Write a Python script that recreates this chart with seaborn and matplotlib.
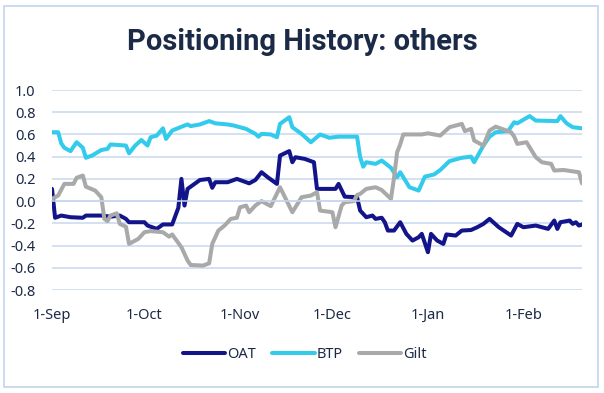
import matplotlib
matplotlib.use("Agg")
import matplotlib.pyplot as plt
import matplotlib.dates as mdates
from matplotlib.patches import Rectangle
import pandas as pd
import seaborn as sns

# days since 1-Sep and positioning values
oat_day = [0, 1, 3, 6, 10, 11, 16, 19, 22, 24, 25, 30, 31, 34, 36, 39, 41, 42, 43, 44,
           47, 48, 51, 52, 53, 57, 60, 61, 64, 66, 68, 70, 73, 74, 77, 78, 79, 82, 85, 86,
           88, 92, 93, 95, 99, 100, 102, 104, 105, 107, 108, 109, 111, 113, 115, 117, 119, 120, 122, 123,
           125, 127, 128, 131, 133, 136, 138, 140, 142, 145, 149, 151, 153, 157, 161, 163, 164, 165, 168, 169,
           170, 171, 172]
oat_val = [0.11, -0.15, -0.13, -0.145, -0.15, -0.13, -0.13, -0.14, -0.13, -0.16, -0.19, -0.19, -0.22, -0.25, -0.21, -0.21, -0.06, 0.20, -0.04, 0.11,
           0.17, 0.19, 0.20, 0.12, 0.17, 0.17, 0.20, 0.19, 0.16, 0.19, 0.26, 0.215, 0.155, 0.41, 0.45, 0.35, 0.395, 0.38, 0.35, 0.11,
           0.11, 0.11, 0.155, 0.04, 0.035, -0.085, -0.145, -0.13, -0.16, -0.15, -0.19, -0.265, -0.265, -0.19, -0.295, -0.355, -0.325, -0.295, -0.46, -0.295,
           -0.355, -0.385, -0.30, -0.31, -0.265, -0.26, -0.235, -0.205, -0.16, -0.235, -0.31, -0.205, -0.235, -0.22, -0.25, -0.175, -0.25, -0.19, -0.175, -0.205,
           -0.19, -0.22, -0.21]

btp_day = [0, 2, 3, 4, 6, 8, 10, 11, 13, 16, 18, 19, 24, 25, 27, 29, 31, 32, 34, 36,
           37, 39, 43, 44, 45, 48, 51, 53, 57, 59, 63, 66, 67, 68, 71, 73, 74, 77, 78, 81,
           84, 87, 90, 93, 99, 100, 101, 102, 105, 107, 110, 112, 113, 116, 119, 121, 124, 126, 129, 133,
           136, 137, 140, 142, 144, 148, 150, 151, 155, 157, 164, 165, 167, 169, 172]
btp_val = [0.62, 0.62, 0.52, 0.48, 0.45, 0.53, 0.48, 0.39, 0.41, 0.46, 0.47, 0.51, 0.50, 0.43, 0.50, 0.55, 0.50, 0.575, 0.59, 0.655,
           0.56, 0.635, 0.68, 0.69, 0.675, 0.69, 0.72, 0.70, 0.69, 0.68, 0.65, 0.605, 0.58, 0.605, 0.60, 0.575, 0.695, 0.755, 0.665, 0.605,
           0.53, 0.60, 0.57, 0.58, 0.58, 0.395, 0.31, 0.35, 0.335, 0.365, 0.30, 0.215, 0.26, 0.125, 0.095, 0.22, 0.24, 0.28, 0.36, 0.39,
           0.40, 0.35, 0.50, 0.58, 0.62, 0.63, 0.71, 0.70, 0.765, 0.725, 0.72, 0.765, 0.70, 0.665, 0.655]

gilt_day = [0, 2, 4, 7, 8, 10, 11, 14, 16, 17, 18, 19, 21, 22, 24, 25, 26, 28, 30, 32,
            36, 38, 39, 42, 44, 45, 49, 51, 52, 54, 56, 58, 60, 61, 63, 64, 66, 68, 71, 74,
            78, 81, 84, 86, 87, 91, 92, 94, 95, 98, 99, 100, 102, 105, 107, 110, 111, 112, 113, 114,
            120, 122, 126, 129, 133, 134, 136, 137, 140, 142, 144, 149, 150, 151, 154, 157, 159, 162, 163, 166,
            171, 172]
gilt_val = [0.02, 0.05, 0.155, 0.155, 0.21, 0.23, 0.13, 0.095, 0.035, -0.16, -0.18, -0.13, -0.11, -0.205, -0.23, -0.385, -0.37, -0.34, -0.28, -0.27,
            -0.28, -0.32, -0.30, -0.415, -0.535, -0.575, -0.58, -0.56, -0.385, -0.265, -0.22, -0.16, -0.15, -0.056, -0.04, -0.10, -0.04, 0.0, -0.045, 0.125,
            -0.10, 0.035, 0.05, 0.08, -0.085, -0.10, -0.235, -0.04, -0.01, 0.0, 0.055, 0.065, 0.11, 0.125, 0.10, 0.02, 0.21, 0.44, 0.51, 0.60,
            0.60, 0.61, 0.59, 0.665, 0.695, 0.63, 0.65, 0.545, 0.50, 0.635, 0.67, 0.62, 0.58, 0.515, 0.53, 0.395, 0.35, 0.335, 0.275, 0.28,
            0.26, 0.16]

series_names = ["OAT", "BTP", "Gilt"]
series_colors = ["#13148a", "#33cbec", "#a9a9a9"]

start = pd.Timestamp("2023-09-01")
frames = []
for name, days, vals in [("OAT", oat_day, oat_val), ("BTP", btp_day, btp_val), ("Gilt", gilt_day, gilt_val)]:
    frames.append(pd.DataFrame({"date": start + pd.to_timedelta(days, unit="D"),
                                "value": vals, "series": name}))
df = pd.concat(frames, ignore_index=True)

sns.set_style("white")
plt.rcParams["font.family"] = ["Noto Sans", "DejaVu Sans"]
text_col = "#1b2a47"
grid_col = "#c6d9f0"

fig = plt.figure(figsize=(6.04, 3.93), dpi=100)
ax = fig.add_axes([52 / 604, 1 - 290 / 393, 530 / 604, 200 / 393])

sns.lineplot(data=df, x="date", y="value", hue="series", hue_order=series_names,
             palette=series_colors, linewidth=2.9, estimator=None, sort=False, ax=ax)

ax.set_ylim(-0.8, 1.0)
ax.set_yticks([-0.8, -0.6, -0.4, -0.2, 0.0, 0.2, 0.4, 0.6, 0.8, 1.0])
ax.yaxis.set_major_formatter(matplotlib.ticker.FormatStrFormatter("%.1f"))
ax.set_xlim(df["date"].min(), df["date"].max())
ax.xaxis.set_major_locator(mdates.MonthLocator())
ax.xaxis.set_major_formatter(mdates.DateFormatter("%-d-%b"))

ax.grid(axis="y", color=grid_col, linewidth=1.1)
ax.set_axisbelow(True)
for s in ["top", "right", "left"]:
    ax.spines[s].set_visible(False)
ax.spines["bottom"].set_position(("data", 0))
ax.spines["bottom"].set_color(grid_col)
ax.spines["bottom"].set_linewidth(1.1)
ax.tick_params(axis="x", length=3, color=grid_col, pad=74, labelsize=10.5, labelcolor=text_col)
ax.tick_params(axis="y", length=0, pad=12, labelsize=10.5, labelcolor=text_col)
ax.set_xlabel("")
ax.set_ylabel("")

ax.legend(loc="center", bbox_to_anchor=(305 / 604, 1 - 355 / 393), bbox_transform=fig.transFigure,
          ncol=3, frameon=False, fontsize=10.5, handlelength=2.9, handletextpad=0.15,
          columnspacing=1.1, labelcolor=text_col)

fig.text(302 / 604, 1 - 42 / 393, "Positioning History: others", ha="center", va="center",
         fontsize=21, fontweight="bold", color=text_col, family=["Roboto", "DejaVu Sans"])

fig.patches.append(Rectangle((4 / 604, 6 / 393), 594 / 604, 381 / 393, transform=fig.transFigure,
                             fill=False, edgecolor=grid_col, linewidth=1.3))

fig.savefig("out.png", dpi=100)
